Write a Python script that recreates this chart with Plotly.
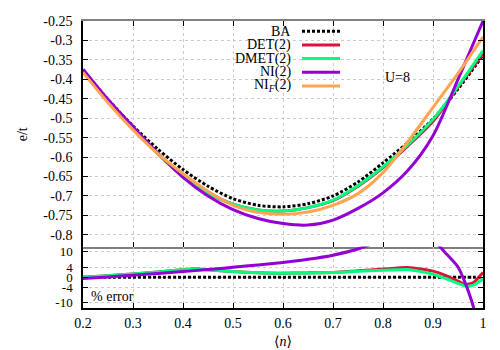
import plotly.graph_objects as go
from plotly.subplots import make_subplots

# density grid for the energy panel
n_e = [0.20, 0.25, 0.30, 0.35, 0.40, 0.45, 0.50, 0.55, 0.60,
       0.65, 0.70, 0.75, 0.80, 0.85, 0.90, 0.95, 1.00]

e_ba = [-0.376, -0.452, -0.520, -0.580, -0.632, -0.675, -0.707, -0.724, -0.728,
        -0.720, -0.700, -0.664, -0.615, -0.562, -0.502, -0.425, -0.338]
e_det = [-0.377, -0.455, -0.526, -0.592, -0.650, -0.692, -0.721, -0.736, -0.739,
         -0.730, -0.712, -0.675, -0.627, -0.571, -0.508, -0.420, -0.334]
e_dmet = [-0.377, -0.455, -0.526, -0.592, -0.650, -0.692, -0.721, -0.736, -0.739,
          -0.730, -0.711, -0.673, -0.625, -0.568, -0.503, -0.418, -0.326]
e_ni = [-0.374, -0.452, -0.522, -0.590, -0.652, -0.700, -0.735, -0.758, -0.771,
        -0.775, -0.762, -0.732, -0.692, -0.634, -0.545, -0.400, -0.250]
e_nif = [-0.382, -0.460, -0.530, -0.592, -0.643, -0.688, -0.724, -0.742, -0.747,
         -0.741, -0.724, -0.694, -0.640, -0.560, -0.472, -0.385, -0.291]

# density grid for the % error panel
n_err = [0.20, 0.25, 0.30, 0.35, 0.40, 0.425, 0.45, 0.50, 0.55, 0.60, 0.65,
         0.70, 0.75, 0.80, 0.85, 0.90, 0.925, 0.95, 0.965, 0.98, 1.00]

err_ba = [0.0] * len(n_err)
err_det = [0.0, 0.6, 1.3, 2.1, 2.9, 3.3, 2.9, 2.2, 1.8, 1.6, 1.7,
           1.9, 2.5, 3.2, 3.8, 2.4, 0.7, -1.5, -2.8, -2.2, 1.9]
err_dmet = [0.0, 0.6, 1.3, 2.1, 2.9, 3.3, 2.9, 2.2, 1.8, 1.6, 1.7,
            1.9, 2.3, 2.7, 3.0, 1.2, -0.5, -2.4, -3.4, -3.2, -0.6]
err_ni = [-0.5, 0.1, 0.8, 1.5, 2.2, 2.6, 3.0, 3.9, 4.8, 5.8, 7.0,
          8.6, 11.0, 14.5, 16.0, 14.5, 9.5, 4.0, -2.5, -11.0, -25.0]

e_ticks = [-0.25, -0.3, -0.35, -0.4, -0.45, -0.5, -0.55, -0.6, -0.65, -0.7, -0.75, -0.8]
e_tick_text = ["-0.25", "-0.3", "-0.35", "-0.4", "-0.45", "-0.5", "-0.55",
               "-0.6", "-0.65", "-0.7", "-0.75", "-0.8"]
err_ticks = [10, 4, 0, -4, -10]
err_tick_text = ["10", "4", "0", "-4", "-10"]
n_ticks = [0.2, 0.3, 0.4, 0.5, 0.6, 0.7, 0.8, 0.9, 1.0]
n_tick_text = ["0.2", "0.3", "0.4", "0.5", "0.6", "0.7", "0.8", "0.9", "1"]

labels = ["BA", "DET(2)", "DMET(2)", "NI(2)", "NI<sub><i>F</i></sub>(2)"]
colors = ["black", "#dc143c", "#00ff7f", "#9400d3", "#ffa54f"]
BA_DASH = "3px,2px"
FONT = "Liberation Serif, DejaVu Serif, serif"

# page body has an 8px margin, so the figure is shrunk and shifted to fit
OFF = 8
W, H = 500 - OFF, 350 - OFF
ML, MR, MT, MB = 83 - OFF, 17, 14 - OFF, 42
PW, PH = W - ML - MR, H - MT - MB
split = 63 / PH

fig = make_subplots(rows=2, cols=1, shared_xaxes=False, vertical_spacing=0,
                    row_heights=[1 - split, split])

upper = [e_ba, e_det, e_dmet, e_ni, e_nif]
for i, ys in enumerate(upper):
    dash = BA_DASH if i == 0 else "solid"
    fig.add_trace(go.Scatter(x=n_e, y=ys, mode="lines", showlegend=False,
                             line=dict(color=colors[i], width=3, dash=dash,
                                       shape="spline", smoothing=0.8)),
                  row=1, col=1)

lower = [err_ba, err_det, err_dmet, err_ni]
for i, ys in enumerate(lower):
    dash = BA_DASH if i == 0 else "solid"
    fig.add_trace(go.Scatter(x=n_err, y=ys, mode="lines", showlegend=False,
                             line=dict(color=colors[i], width=3, dash=dash,
                                       shape="spline", smoothing=0.6)),
                  row=2, col=1)

grid = dict(showgrid=True, gridcolor="#cccccc", gridwidth=1, griddash="3px,3px",
            zeroline=False, ticks="inside", ticklen=5, tickcolor="black",
            tickfont=dict(family=FONT, size=14, color="black"))

fig.update_xaxes(range=[0.2, 1.0], tickvals=n_ticks, showticklabels=False,
                 showline=True, linecolor="#808080", linewidth=2, mirror="ticks",
                 row=1, col=1, **grid)
fig.update_yaxes(range=[-0.83, -0.25], tickvals=e_ticks, ticktext=e_tick_text,
                 showline=True, linecolor="black", linewidth=1.5, mirror="ticks",
                 ticklabelstandoff=6, row=1, col=1, **grid)
fig.update_xaxes(range=[0.2, 1.0], tickvals=n_ticks, ticktext=n_tick_text,
                 showline=True, linecolor="black", linewidth=1.5, mirror=False,
                 ticklabelstandoff=1, row=2, col=1, **grid)
fig.update_yaxes(range=[-12, 12], tickvals=err_ticks, ticktext=err_tick_text,
                 showline=True, linecolor="black", linewidth=1.5, mirror="ticks",
                 ticklabelstandoff=6, row=2, col=1, **grid)
fig.update_yaxes(tickfont=dict(family=FONT, size=13, color="black"), row=2, col=1)


# page pixel -> paper coordinate
def px_x(p):
    return (p - OFF - ML) / PW


def px_y(p):
    return (H - MB - (p - OFF)) / PH


def text(x, y, s, xanchor="center", **kw):
    fig.add_annotation(x=x, y=y, text=s, showarrow=False, xanchor=xanchor,
                       yanchor="middle", font=dict(family=FONT, size=14, color="black"),
                       **kw)


# gnuplot-style key: text right-aligned, sample line to the right
key_rows = [24.5, 38.5, 52.5, 66.5, 80.5]
for i, lab in enumerate(labels):
    yk = px_y(key_rows[i])
    text(px_x(293), yk, lab, xanchor="right", xref="paper", yref="paper")
    fig.add_shape(type="line", xref="paper", yref="paper",
                  x0=px_x(302), x1=px_x(340), y0=yk, y1=yk,
                  line=dict(color=colors[i], width=3,
                            dash=BA_DASH if i == 0 else "solid"))

text(px_x(397), px_y(72), "U=8", xref="paper", yref="paper")
text(0.212, -7.5, "% error", xanchor="left", xref="x2", yref="y2")
text(px_x(22), px_y(130), "e/t", textangle=-90, xref="paper", yref="paper")
text(0.5, px_y(342), "⟨<i>n</i>⟩", xref="paper", yref="paper")

fig.update_layout(width=W, height=H, margin=dict(l=ML, r=MR, t=MT, b=MB),
                  plot_bgcolor="white", paper_bgcolor="white",
                  font=dict(family=FONT, size=14, color="black"))
fig.write_html("out.html")
